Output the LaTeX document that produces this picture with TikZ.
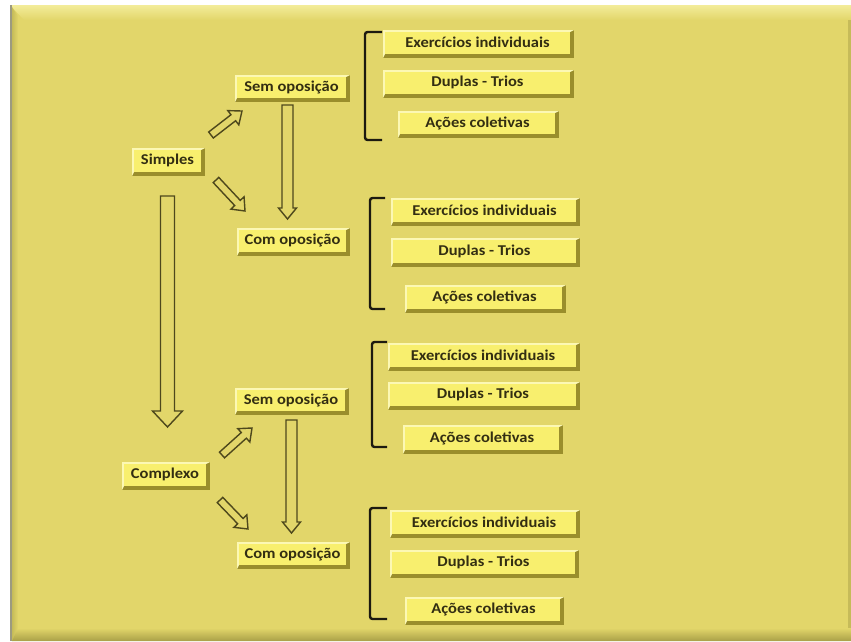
\documentclass[tikz,border=0pt]{standalone}
\usepackage{fontspec}
\setmainfont{Carlito}
\newfontfamily\labelfont{Carlito}[FakeStretch=1.1]
\usetikzlibrary{calc}

\definecolor{pagebg}{HTML}{E2D66A}
\definecolor{panellight}{HTML}{F3EC9A}
\definecolor{paneldark}{HTML}{A9A048}
\definecolor{panelgrey}{HTML}{9C9A80}
\definecolor{boxface}{HTML}{F8EF6E}
\definecolor{boxlight}{HTML}{FCF8B4}
\definecolor{boxdark}{HTML}{9A8E2C}
\definecolor{inktext}{HTML}{332E12}
\definecolor{arrowink}{HTML}{4E481C}
\definecolor{bracketink}{HTML}{1C1A10}

\tikzset{
  boxtext/.style={inner sep=0pt, text=inktext, font=\labelfont\bfseries\fontsize{15}{17}\selectfont},
  arrowline/.style={draw=arrowink, fill=pagebg, line width=1.4pt, line join=miter},
  bracketline/.style={draw=bracketink, line width=2.4pt, rounded corners=2.5pt, line cap=butt},
}

% bevelled box: name, x1, y1, x2, y2, text
\newcommand\bevelbox[6]{%
  \fill[boxdark] (#2,#3) rectangle (#4,#5);
  \fill[boxlight] (#2,#3) -- (#4,#3) -- ({#4-4},{#3+2}) -- ({#2+2},{#3+2})
     -- ({#2+2},{#5-4}) -- (#2,#5) -- cycle;
  \fill[boxface] ({#2+2},{#3+2}) rectangle ({#4-4},{#5-4});
  \node[boxtext] (#1) at ({(#2+#4)/2-1},{(#3+#5)/2-1.5}) {#6};
}

% hollow block arrow from coordinate #1 to coordinate #2:
% half shaft width #3, half head width #4, head length #5
\newcommand\blockarrow[5]{%
  \coordinate (#1-h) at ($(#2)!#5!(#1)$);
  \draw[arrowline] ($(#1)!#3!90:(#2)$) -- ($(#1-h)!#3!90:(#2)$)
     -- ($(#1-h)!#4!90:(#2)$) -- (#2) -- ($(#1-h)!#4!-90:(#2)$)
     -- ($(#1-h)!#3!-90:(#2)$) -- ($(#1)!#3!-90:(#2)$) -- cycle;
}

\begin{document}
\begin{tikzpicture}[x=1pt,y=-1pt]
\useasboundingbox (0,0) rectangle (851,641);

% page and bevelled panel
\fill[white] (0,0) rectangle (851,641);
\fill[pagebg] (10,5) rectangle (851,641);
\shade[top color=panellight, bottom color=pagebg] (10,5) -- (851,5) -- (851,20) -- (24,20) -- cycle;
\fill[panelgrey] (10,5) rectangle (12,641);
\shade[left color=paneldark!50!pagebg, right color=pagebg] (12,7) -- (18,16) -- (18,630) -- (12,641) -- cycle;
\shade[top color=pagebg, bottom color=paneldark] (18,628) -- (851,628) -- (851,641) -- (12,641) -- cycle;
\fill[paneldark!50!pagebg] (848,20) rectangle (851,628);

% first level
\bevelbox{simples}{132}{148}{205}{176}{Simples}
\bevelbox{complexo}{122}{462}{210}{490}{Complexo}

% second level
\bevelbox{semA}{235}{75}{350}{102}{Sem oposição}
\bevelbox{comA}{237}{228}{350}{256}{Com oposição}
\bevelbox{semB}{235}{388}{349}{415}{Sem oposição}
\bevelbox{comB}{237}{542}{350}{569}{Com oposição}

% third level, group 1
\bevelbox{exA}{383}{30}{574}{58}{Exercícios individuais}
\bevelbox{duA}{383}{70}{574}{98}{Duplas - Trios}
\bevelbox{acA}{398}{111}{559}{138}{Ações coletivas}
% group 2
\bevelbox{exB}{391}{198}{580}{226}{Exercícios individuais}
\bevelbox{duB}{391}{238}{580}{267}{Duplas - Trios}
\bevelbox{acB}{405}{285}{566}{313}{Ações coletivas}
% group 3
\bevelbox{exC}{388}{343}{580}{371}{Exercícios individuais}
\bevelbox{duC}{388}{382}{580}{410}{Duplas - Trios}
\bevelbox{acC}{403}{425}{563}{454}{Ações coletivas}
% group 4
\bevelbox{exD}{390}{510}{580}{538}{Exercícios individuais}
\bevelbox{duD}{390}{550}{579}{578}{Duplas - Trios}
\bevelbox{acD}{405}{597}{564}{625}{Ações coletivas}

% brackets grouping each set of activities
\draw[bracketline] (382,32) -- (365,32) -- (365,140) -- (382,140);
\draw[bracketline] (385,198) -- (370,198) -- (370,309) -- (385,309);
\draw[bracketline] (387,342) -- (372,342) -- (372,447) -- (387,447);
\draw[bracketline] (387,508) -- (370,508) -- (370,619) -- (387,619);

% arrow end points
\coordinate (s-up-tail) at (211,135);
\coordinate (s-up-tip) at (242,111);
\coordinate (s-dn-tail) at (216,180);
\coordinate (s-dn-tip) at (245,211);
\coordinate (a-v-tail) at (287.5,105);
\coordinate (a-v-tip) at (287.5,219);
\coordinate (big-tail) at (167.5,196);
\coordinate (big-tip) at (167.5,427);
\coordinate (c-up-tail) at (222,455);
\coordinate (c-up-tip) at (252,428);
\coordinate (c-dn-tail) at (220,500);
\coordinate (c-dn-tip) at (248,529);
\coordinate (b-v-tail) at (291.5,420);
\coordinate (b-v-tip) at (291.5,533);

% block arrows
\blockarrow{s-up-tail}{s-up-tip}{3.8pt}{9pt}{11pt}
\blockarrow{s-dn-tail}{s-dn-tip}{3.8pt}{9pt}{11pt}
\blockarrow{a-v-tail}{a-v-tip}{5.5pt}{9pt}{11pt}
\blockarrow{big-tail}{big-tip}{7pt}{15pt}{16pt}
\blockarrow{c-up-tail}{c-up-tip}{3.8pt}{9pt}{11pt}
\blockarrow{c-dn-tail}{c-dn-tip}{3.8pt}{9pt}{11pt}
\blockarrow{b-v-tail}{b-v-tip}{5.5pt}{9pt}{11pt}
\end{tikzpicture}
\end{document}
